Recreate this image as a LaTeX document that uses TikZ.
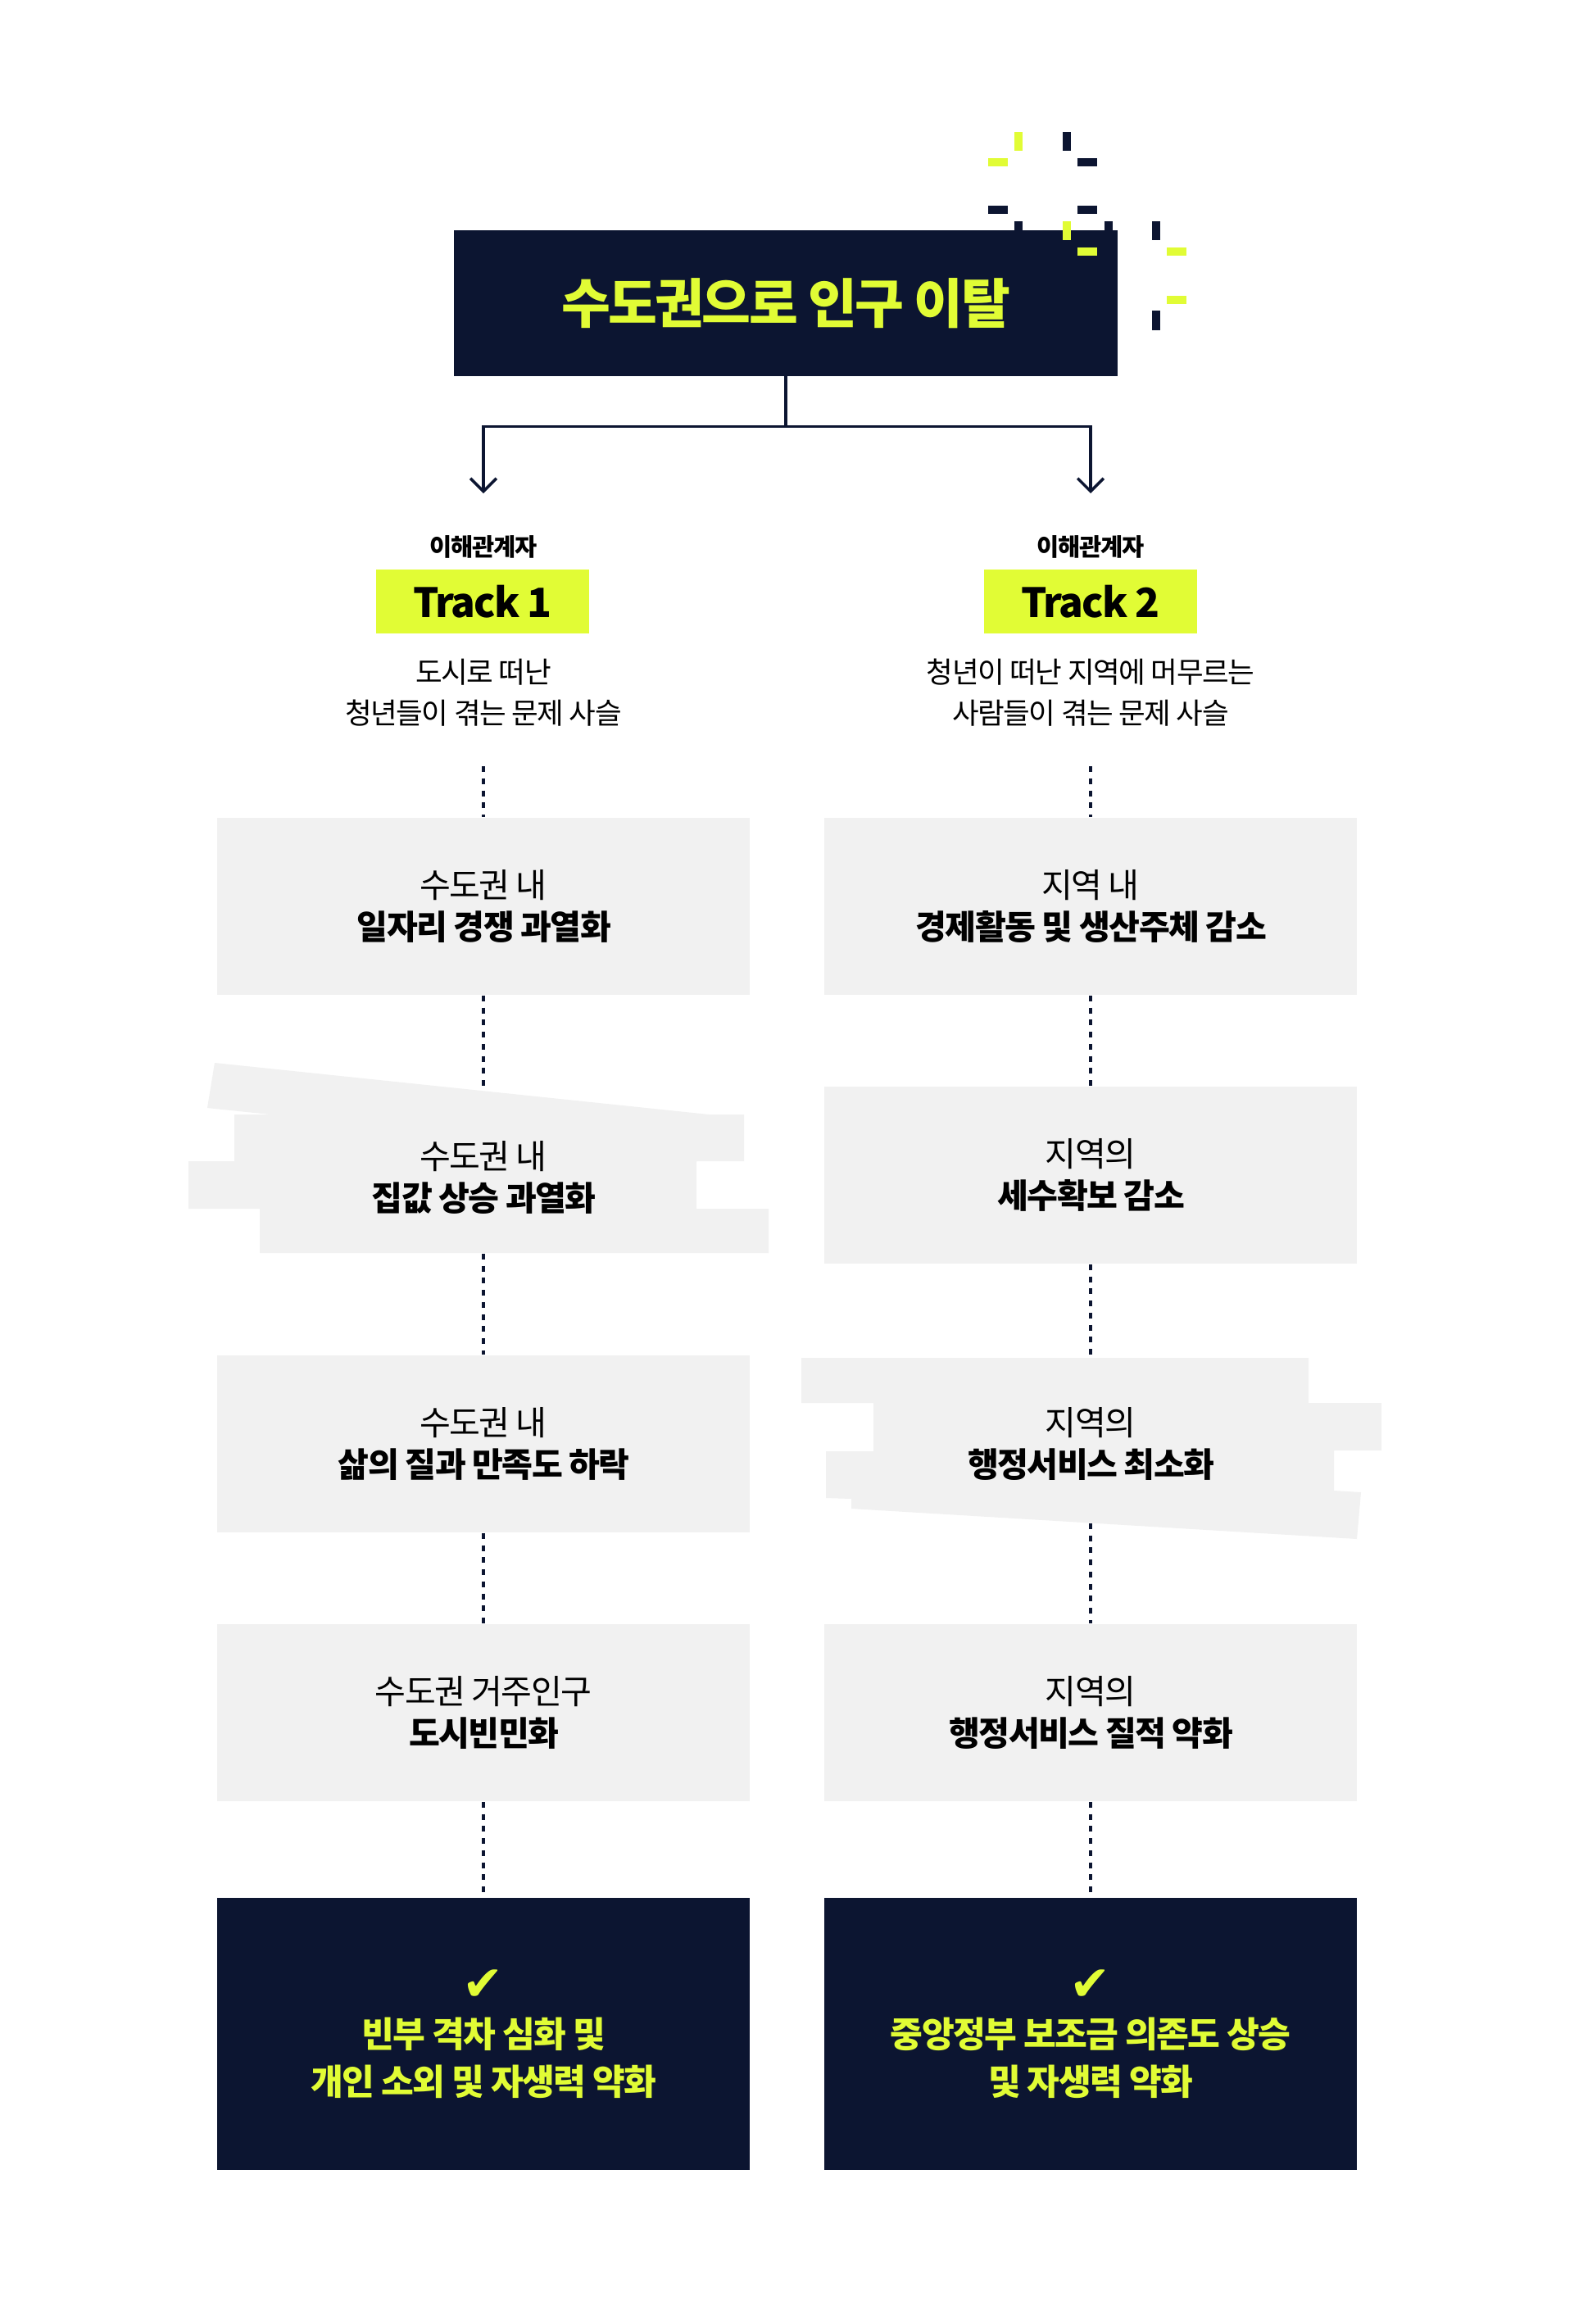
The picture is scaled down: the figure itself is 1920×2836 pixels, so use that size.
\documentclass[tikz,border=0pt]{standalone}
\usepackage{fontspec}
\setmainfont{Noto Sans CJK KR}[LetterSpace=-4]
\newfontfamily\symfont{DejaVu Sans}
\usetikzlibrary{arrows.meta,backgrounds}
\definecolor{navy}{RGB}{12,21,49}
\definecolor{lime}{RGB}{225,252,53}
\definecolor{paper}{RGB}{241,241,241}

\begin{document}
\begin{tikzpicture}[x=0.01cm,y=-0.01cm,
  issuebox/.style={fill=paper,minimum width=6.5cm,minimum height=2.16cm,inner sep=0pt,align=center,font=\fontsize{11.7}{14.5}\selectfont},
  shapetext/.style={minimum width=6.5cm,inner sep=0pt,align=center,font=\fontsize{11.7}{14.5}\selectfont},
  resultbox/.style={fill=navy,text=lime,minimum width=6.5cm,minimum height=3.32cm,inner sep=0pt,align=center,font=\bfseries\fontsize{12.3}{16.4}\selectfont},
  trackbox/.style={fill=lime,minimum width=2.59cm,minimum height=0.78cm,inner sep=0pt,font=\bfseries\fontsize{14}{14}\selectfont},
  whobox/.style={font=\bfseries\fontsize{8.4}{9}\selectfont},
  descbox/.style={align=center,font=\fontsize{10.1}{14.2}\selectfont},
  link/.style={line width=1pt,draw=navy,-{Straight Barb[length=4.5pt,width=9pt]}},
  dotline/.style={line width=1pt,draw=navy,dash pattern=on 2pt off 2.2pt}]
  \useasboundingbox (0,0) rectangle (1920,2836);

  \node[fill=navy,text=lime,minimum width=8.1cm,minimum height=1.77cm,inner sep=0pt,font=\bfseries\fontsize{18.5}{18.5}\selectfont] (title) at (959,370) {수도권으로 인구 이탈};
  \foreach \x/\y/\w/\h/\c in {1238/161/10/23/lime,1206/193/24/10/lime,1297/270/10/23/lime,
      1315/302/24/10/lime,1424/302/24/10/lime,1424/361/24/10/lime,
      1297/161/10/23/navy,1315/193/24/10/navy,1206/251/24/10/navy,1315/251/24/10/navy,
      1238/270/10/12/navy,1348/270/10/12/navy,1406/270/10/23/navy,1406/379/10/24/navy}
    \fill[\c] (\x,\y) rectangle ++(\w,\h);

  \coordinate (in1) at (590,602);
  \coordinate (in2) at (1331,602);
  \draw[link] (title.south) -- ++(0,61) -| (in1);
  \draw[link] (title.south) -- ++(0,61) -| (in2);

  \node[whobox] (who1) at (590,667) {이해관계자};
  \node[whobox] (who2) at (1331,667) {이해관계자};
  \node[trackbox] (track1) at (589,734) {Track 1};
  \node[trackbox] (track2) at (1331,734) {Track 2};
  \node[descbox] (desc1) at (590,845) {도시로 떠난\\청년들이 겪는 문제 사슬};
  \node[descbox] (desc2) at (1331,845) {청년이 떠난 지역에 머무르는\\사람들이 겪는 문제 사슬};
  \coordinate (top1) at (590,935);
  \coordinate (top2) at (1331,935);

  \node[issuebox] (l1) at (590,1106) {수도권 내\\\textbf{일자리 경쟁 과열화}};
  \fill[paper] (262,1297) -- (865,1360) -- (908,1360) -- (908,1417) -- (850,1417) -- (850,1475)
    -- (938,1475) -- (938,1529) -- (317,1529) -- (317,1475) -- (230,1475) -- (230,1417)
    -- (286,1417) -- (286,1360) -- (330,1360) -- (253,1352) -- cycle;
  \node[shapetext,minimum height=1.84cm] (l2) at (590,1437) {수도권 내\\\textbf{집값 상승 과열화}};
  \node[issuebox] (l3) at (590,1762) {수도권 내\\\textbf{삶의 질과 만족도 하락}};
  \node[issuebox] (l4) at (590,2090) {수도권 거주인구\\\textbf{도시빈민화}};
  \node[resultbox] (res1) at (590,2482) {{\symfont\fontsize{17}{17}\selectfont ✔}\\빈부 격차 심화 및\\개인 소외 및 자생력 약화};

  \node[issuebox] (r1) at (1331,1106) {지역 내\\\textbf{경제활동 및 생산주체 감소}};
  \node[issuebox] (r2) at (1331,1434) {지역의\\\textbf{세수확보 감소}};
  \fill[paper] (978,1657) -- (1597,1657) -- (1597,1712) -- (1686,1712) -- (1686,1770) -- (1628,1770)
    -- (1628,1819) -- (1661,1821) -- (1656,1878) -- (1039,1841) -- (1039,1829) -- (1008,1828)
    -- (1008,1771) -- (1066,1771) -- (1066,1712) -- (978,1712) -- cycle;
  \node[shapetext,minimum height=1.92cm] (r3) at (1331,1762) {지역의\\\textbf{행정서비스 최소화}};
  \node[issuebox] (r4) at (1331,2090) {지역의\\\textbf{행정서비스 질적 약화}};
  \node[resultbox] (res2) at (1331,2482) {{\symfont\fontsize{17}{17}\selectfont ✔}\\중앙정부 보조금 의존도 상승\\및 자생력 약화};

  \begin{scope}[on background layer]
    \fill[white] (0,0) rectangle (1920,2836);
    \draw[dotline] (top1) -- (l1.north);
    \draw[dotline] (l1.south) -- (l2.north);
    \draw[dotline] (l2.south) -- (l3.north);
    \draw[dotline] (l3.south) -- (l4.north);
    \draw[dotline] (l4.south) -- (res1.north);
    \draw[dotline] (top2) -- (r1.north);
    \draw[dotline] (r1.south) -- (r2.north);
    \draw[dotline] (r2.south) -- (r3.north);
    \draw[dotline] (r3.south) -- (r4.north);
    \draw[dotline] (r4.south) -- (res2.north);
  \end{scope}
\end{tikzpicture}
\end{document}
